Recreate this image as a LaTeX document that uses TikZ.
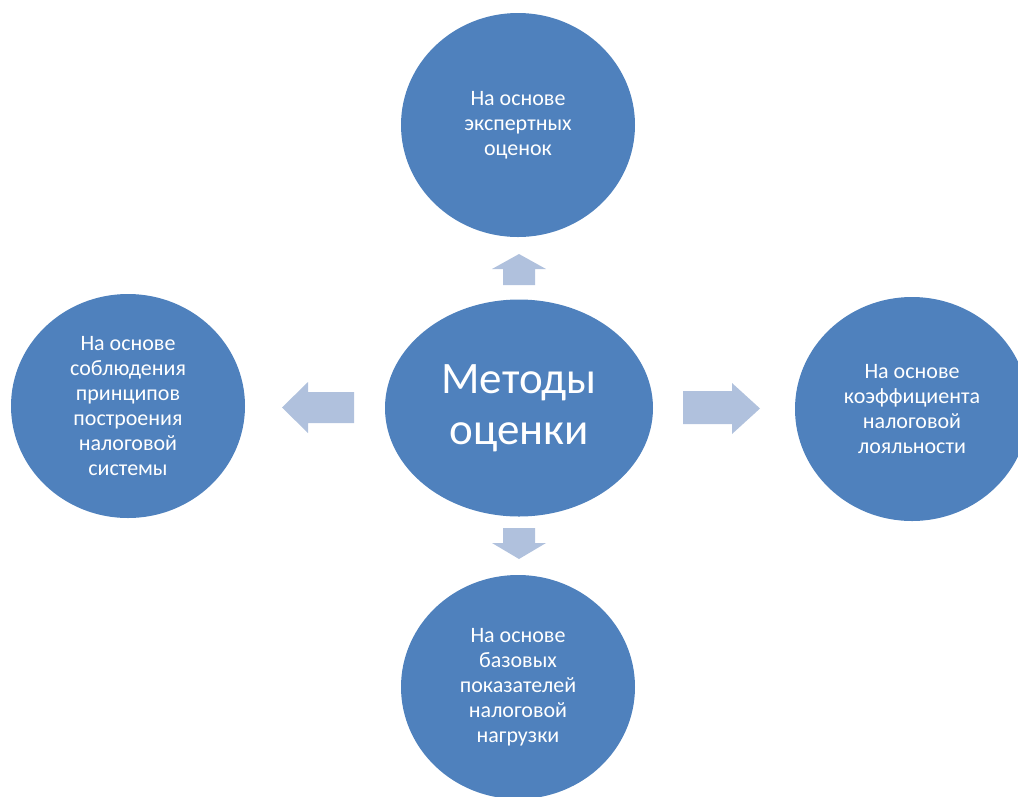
\documentclass[tikz,border=0pt]{standalone}
\usepackage{fontspec}
\setmainfont{Carlito}
\usetikzlibrary{shapes.geometric}

\definecolor{methodblue}{HTML}{4F81BD}
\definecolor{arrowblue}{HTML}{B0C1DD}

\tikzset{
  method/.style={ellipse, fill=methodblue, text=white, align=center, inner sep=0pt,
    minimum width=234, minimum height=224, font=\fontsize{22}{25}\selectfont},
  blockarrow/.style={fill=arrowblue}
}

\begin{document}
\begin{tikzpicture}[x=1pt,y=-1pt]
\clip (0,0) rectangle (1018,796);

\node[method, minimum width=268, minimum height=217,
  font=\fontsize{45}{51}\selectfont] (core) at (519,408) {Методы\\оценки};

\node[method] (expert) at (518,125) {На основе\\экспертных\\оценок};
\node[method] (principles) at (128,406) {На основе\\соблюдения\\принципов\\построения\\налоговой\\системы};
\node[method] (loyalty) at (912,409) {На основе\\коэффициента\\налоговой\\лояльности};
\node[method] (burden) at (518,687) {На основе\\базовых\\показателей\\налоговой\\нагрузки};

% block arrows
\fill[blockarrow] (503,285) -- (503,269) -- (492,269) -- (519,254) -- (546,269) -- (535,269) -- (535,285) -- cycle;
\fill[blockarrow] (503,528) -- (503,543) -- (492,543) -- (519,559) -- (546,543) -- (535,543) -- (535,528) -- cycle;
\fill[blockarrow] (354,392) -- (308,392) -- (308,382) -- (282,407.5) -- (308,433) -- (308,423) -- (354,423) -- cycle;
\fill[blockarrow] (683,391) -- (732,391) -- (732,383) -- (760,408.5) -- (732,434) -- (732,424) -- (683,424) -- cycle;

\end{tikzpicture}
\end{document}
